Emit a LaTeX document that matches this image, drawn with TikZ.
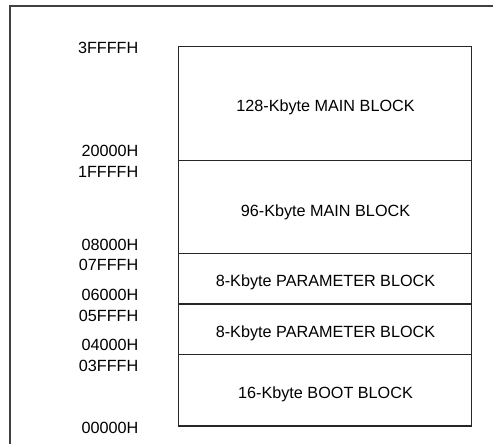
\documentclass[tikz,border=0pt]{standalone}
\usepackage{fontspec}
\setmainfont{Liberation Sans}
\begin{document}
\begin{tikzpicture}[x=1pt,y=-1pt,
  frame/.style={draw=black!75, line width=2pt},
  blk/.style={draw=black!85, line width=1.3pt, rectangle, minimum width=293pt, inner sep=0pt, outer sep=0pt, anchor=north west},
  addr/.style={anchor=base east, inner sep=0pt, font=\fontsize{16.2}{19}\selectfont},
  blab/.style={anchor=base, inner sep=0pt, font=\fontsize{16.2}{19}\selectfont}]
\useasboundingbox (0,0) rectangle (493,444);
\coordinate (fl) at (9.5,444);
\coordinate (fc) at (9.5,6.5);
\coordinate (fr) at (493,6.5);
\draw[frame] (fl) -- (fc) -- (fr);
% blocks
\node[blk, minimum height=114pt] (b1) at (178.5,46.7) {};
\node[blk, minimum height=92.6pt] (b2) at (b1.south west) {};
\node[blk, minimum height=50.7pt] (b3) at (b2.south west) {};
\node[blk, minimum height=50.3pt] (b4) at (b3.south west) {};
\node[blk, minimum height=71.7pt] (b5) at (b4.south west) {};
% block labels
\node[blab] (t1) at (325.5,111.7) {128-Kbyte MAIN BLOCK};
\node[blab] (t2) at (325.5,216) {96-Kbyte MAIN BLOCK};
\node[blab] (t3) at (325.5,286.7) {8-Kbyte PARAMETER BLOCK};
\node[blab] (t4) at (325.5,337.7) {8-Kbyte PARAMETER BLOCK};
\node[blab] (t5) at (325.5,398.3) {16-Kbyte BOOT BLOCK};
% addresses
\node[addr] (a1) at (138.5,53.3) {3FFFFH};
\node[addr] (a2) at (138.5,156.7) {20000H};
\node[addr] (a3) at (138.5,177.3) {1FFFFH};
\node[addr] (a4) at (138.5,250) {08000H};
\node[addr] (a5) at (138.5,270.7) {07FFFH};
\node[addr] (a6) at (138.5,300) {06000H};
\node[addr] (a7) at (138.5,321.7) {05FFFH};
\node[addr] (a8) at (138.5,350) {04000H};
\node[addr] (a9) at (138.5,371.7) {03FFFH};
\node[addr] (a10) at (138.5,433.3) {00000H};
\end{tikzpicture}
\end{document}
